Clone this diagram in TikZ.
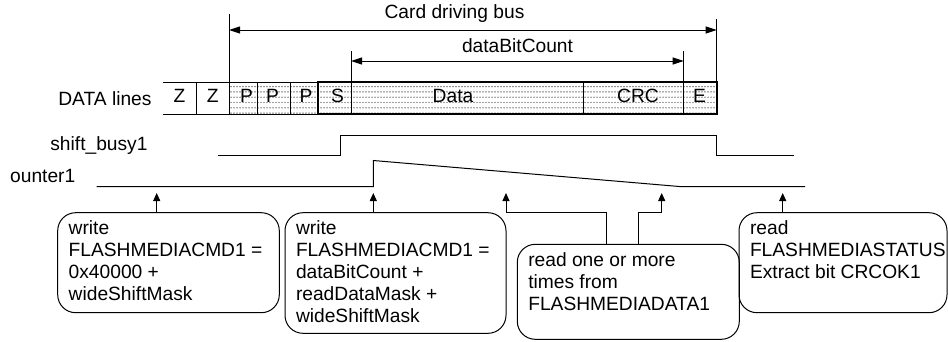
\documentclass[tikz,border=0pt]{standalone}
\usepackage{fontspec}
\setmainfont{Liberation Sans}
\usetikzlibrary{arrows.meta,patterns}
\hyphenpenalty=10000
\hbadness=10000
\hfuzz=20pt
\pgfdeclarepatternformonly{sdots}{\pgfpoint{-0.8pt}{-0.8pt}}{\pgfpoint{0.8pt}{0.8pt}}{\pgfpoint{3pt}{5.3pt}}{%
\pgfpathcircle{\pgfpoint{0pt}{0pt}}{0.7pt}\pgfusepath{fill}}
\newcommand{\cmdtext}[3]{\parbox[c][#1][t]{#2}{\raggedright\vspace*{6.6pt}\strut#3}}
\tikzset{
every node/.style={font=\fontsize{19.2}{22}\selectfont, inner sep=0pt},
sig/.style={line width=1pt},
thickbox/.style={line width=2.2pt},
cmdbox/.style={draw, line width=1pt, rounded corners=18pt, inner xsep=11pt, inner ysep=0pt, outer sep=0pt, anchor=north west},
uparrow/.style={-{Triangle[length=8pt,width=7pt]}, line width=1pt},
span/.style={{Triangle[length=11pt,width=7pt]}-{Triangle[length=11pt,width=7pt]}, line width=1pt}
}
\begin{document}
\begin{tikzpicture}[x=1pt,y=-1pt]
\useasboundingbox (0,0) rectangle (948,341);
\fill [pattern = sdots, pattern color = black!75] (229,82) rectangle (716.7,114);
\draw [sig] (163,82) -- (318,82);
\draw [sig] (163,114) -- (318,114);
\foreach \x in {196,229,257,290,351,583.7,683.7}{
\draw [sig] (\x,82) -- (\x,114);
}
\draw [thickbox] (318,82) rectangle (716.7,114);
\foreach \x/\t [count=\i] in {179.5/Z,212.8/Z,246.5/P,272.5/P,306/P,337.5/S,453/Data,638/CRC,699.5/E}{
\node [anchor = base] (cell\i) at (\x,102.5) {\t};
}
\node [anchor = base east] (datalines) at (151.7,105) {DATA lines};
\node [anchor = base east] (busylbl) at (147.7,150) {shift\_busy1};
\node [anchor = base west] (cntlbl) at (10,182.7) {ounter1};
\draw [sig] (229,14) -- (229,82);
\draw [sig] (716.7,19) -- (716.7,82);
\draw [sig] (351,51) -- (351,82);
\draw [sig] (683.7,51) -- (683.7,82);
\coordinate (busL) at (229,30);
\coordinate (busR) at (716.7,30);
\coordinate (bitL) at (351,61);
\coordinate (bitR) at (683.7,61);
\draw [span] (busL) -- (busR);
\draw [span] (bitL) -- (bitR);
\node [anchor = base] (buslbl) at (454.5,18.3) {Card driving bus};
\node [anchor = base] (bitlbl) at (517.5,52.7) {dataBitCount};
\draw [sig] (218,155) -- (340,155) -- (340,135) -- (716.7,135) -- (716.7,155) -- (794,155);
\draw [sig] (96.7,186.7) -- (373.3,186.7) -- (373.3,160.5) -- (681.7,186.7) -- (805,186.7);
\node [cmdbox] (b1) at (57.7,212.7) {\cmdtext{100pt}{199.6pt}{write\\FLASHMEDIACMD1 =\\0x40000 +\\wideShiftMask}};
\node [cmdbox] (b2) at (285,212.7) {\cmdtext{120.6pt}{199pt}{write\\FLASHMEDIACMD1 =\\dataBitCount +\\readDataMask +\\wideShiftMask}};
\node [cmdbox] (b3) at (517.3,244.3) {\cmdtext{95pt}{200pt}{read one or more\\times from\\FLASHMEDIADATA1}};
\node [cmdbox] (b4) at (739,212.7) {\cmdtext{100pt}{186pt}{read\\FLASHMEDIASTATUS\\Extract bit CRCOK1}};
\coordinate (t1) at (156.7,193);
\coordinate (t2) at (373.3,193);
\coordinate (t3) at (506,193);
\coordinate (t4) at (661.7,193);
\coordinate (t5) at (782.7,193);
\draw [uparrow] (t1 |- b1.north) -- (t1);
\draw [uparrow] (t2 |- b2.north) -- (t2);
\draw [uparrow] (606,244.3) -- (606,212.7) -| (t3);
\draw [uparrow] (638.7,244.3) -- (638.7,212.7) -| (t4);
\draw [uparrow] (t5 |- b4.north) -- (t5);
\end{tikzpicture}
\end{document}
